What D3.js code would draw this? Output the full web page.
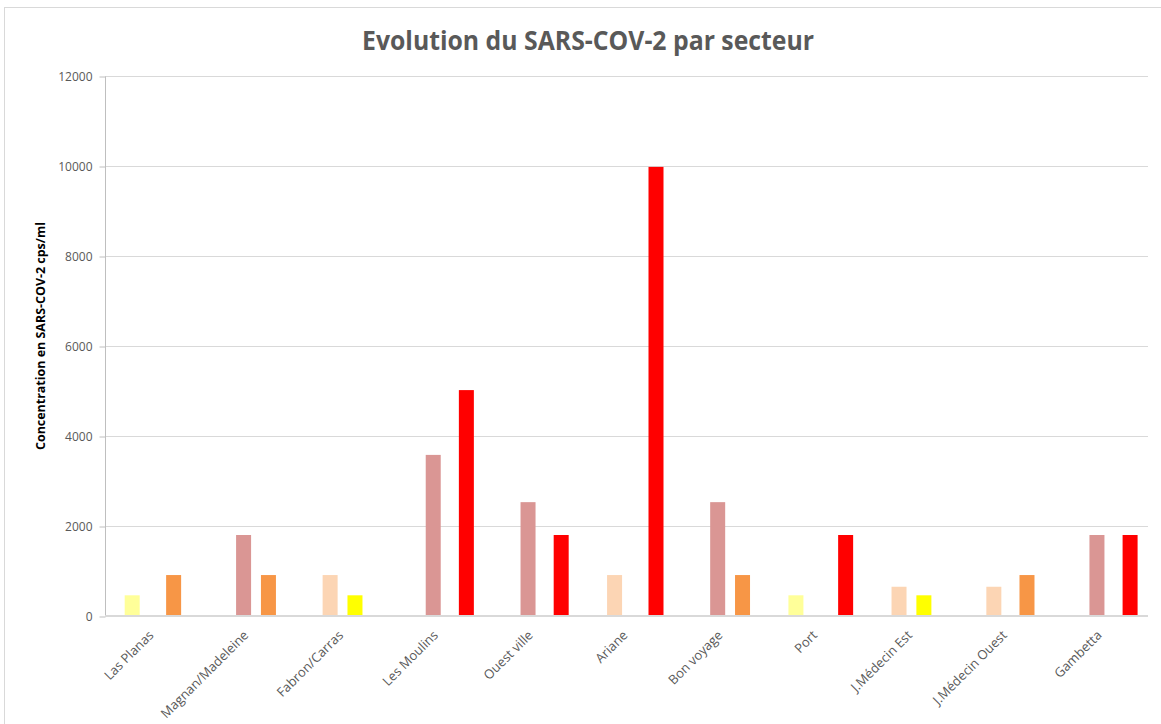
<!DOCTYPE html>
<html><head><meta charset="utf-8">
<script src="https://cdn.jsdelivr.net/npm/d3@7"></script>
<style>html,body{margin:0;padding:0;background:#fff;}svg{display:block;}</style>
</head><body>
<script>
const categories = ["Las Planas","Magnan/Madeleine","Fabron/Carras","Les Moulins","Ouest ville","Ariane","Bon voyage","Port","J.Médecin Est","J.Médecin Ouest","Gambetta"];
// 8 series (two weeks x four levels); null = no bar
const seriesNames = ["S1 niveau 0","S1 niveau 1","S1 niveau 2","S1 niveau 3","S2 niveau 0","S2 niveau 1","S2 niveau 2","S2 niveau 3"];
const s1n0 = [null,null,null,null,null,null,null,null,null,null,null];
const s1n1 = [460,null,null,null,null,null,null,460,null,null,null];
const s1n2 = [null,null,910,null,null,910,null,null,650,650,null];
const s1n3 = [null,1800,null,3580,2530,null,2530,null,null,null,1800];
const s2n0 = [null,null,null,null,null,null,null,null,null,null,null];
const s2n1 = [null,null,460,null,null,null,null,null,460,null,null];
const s2n2 = [910,910,null,null,null,null,910,null,null,910,null];
const s2n3 = [null,null,null,5020,1800,9980,null,1800,null,null,1800];
const seriesValues = [s1n0,s1n1,s1n2,s1n3,s2n0,s2n1,s2n2,s2n3];
const seriesColors = ["#d8e4bc","#ffff99","#fcd5b4","#da9694","#92d050","#ffff00","#f79646","#ff0000"];
const yTicks = [0,2000,4000,6000,8000,10000,12000];

const W = 1161, H = 724;
const m = {left:105, right:1148, top:76, bottom:616};
const svg = d3.select("body").append("svg").attr("width",W).attr("height",H);

svg.append("rect").attr("x",4.5).attr("y",7.5).attr("width",W).attr("height",H)
  .attr("fill","#fff").attr("stroke","#d9d9d9").attr("stroke-width",1);

const x = d3.scaleBand().domain(categories).range([m.left,m.right]).paddingInner(0).paddingOuter(0);
const slot = d3.scalePoint().domain(d3.range(seriesNames.length)).range([-28.5,29.5]);
const y = d3.scaleLinear().domain([0,12000]).range([m.bottom,m.top]);
const barW = 15;

// gridlines
svg.append("g").selectAll("line").data(yTicks.filter(d=>d>0)).join("line")
  .attr("x1",m.left).attr("x2",m.right)
  .attr("y1",d=>Math.round(y(d))+0.5).attr("y2",d=>Math.round(y(d))+0.5)
  .attr("stroke","#d9d9d9").attr("stroke-width",1);

// y axis
const yAxis = d3.axisLeft(y).tickValues(yTicks).tickSize(6).tickPadding(7).tickFormat(d3.format("d"));
const ya = svg.append("g").attr("transform",`translate(${m.left+0.5},0.5)`).call(yAxis);
ya.select(".domain").attr("stroke","#bfbfbf").attr("d",`M0,${m.top}V${m.bottom}`);
ya.selectAll(".tick line").attr("stroke","#bfbfbf");
ya.selectAll(".tick text").attr("fill","#595959").style("font-family","'Open Sans',sans-serif").style("font-size","12px");

// bars
const barsData = [];
seriesValues.forEach((arr,j)=>arr.forEach((v,i)=>{ if(v!=null) barsData.push({cat:categories[i],j,v}); }));
svg.append("g").selectAll("rect").data(barsData).join("rect")
  .attr("x",d=>x(d.cat)+x.bandwidth()/2+slot(d.j)-barW/2)
  .attr("y",d=>y(d.v))
  .attr("width",barW)
  .attr("height",d=>y(0)-y(d.v))
  .attr("fill",d=>seriesColors[d.j]);

// x axis
const xAxis = d3.axisBottom(x).tickSize(0).tickPadding(0);
const xa = svg.append("g").attr("transform",`translate(0,${m.bottom})`).call(xAxis);
xa.select(".domain").attr("stroke","#d9d9d9").attr("stroke-width",2).attr("d",`M${m.left},0H${m.right}`);
xa.selectAll(".tick text")
  .attr("fill","#595959").style("font-family","'Open Sans',sans-serif").style("font-size","13px")
  .attr("text-anchor","end").attr("dy",null).attr("y",0)
  .attr("transform","translate(2,20) rotate(-45)");

// title
svg.append("text").attr("x",588).attr("y",50).attr("text-anchor","middle")
  .attr("fill","#595959").style("font-family","'Open Sans',sans-serif").style("font-weight","bold").style("font-size","27px")
  .attr("textLength",452).attr("lengthAdjust","spacingAndGlyphs")
  .text("Evolution du SARS-COV-2 par secteur");

// y title
svg.append("text").attr("transform",`translate(45,336) rotate(-90)`)
  .attr("text-anchor","middle").attr("fill","#000")
  .style("font-family","'Open Sans',sans-serif").style("font-weight","bold").style("font-size","12.5px")
  .attr("textLength",228).attr("lengthAdjust","spacingAndGlyphs")
  .text("Concentration en SARS-COV-2 cps/ml");
</script>
</body></html>
